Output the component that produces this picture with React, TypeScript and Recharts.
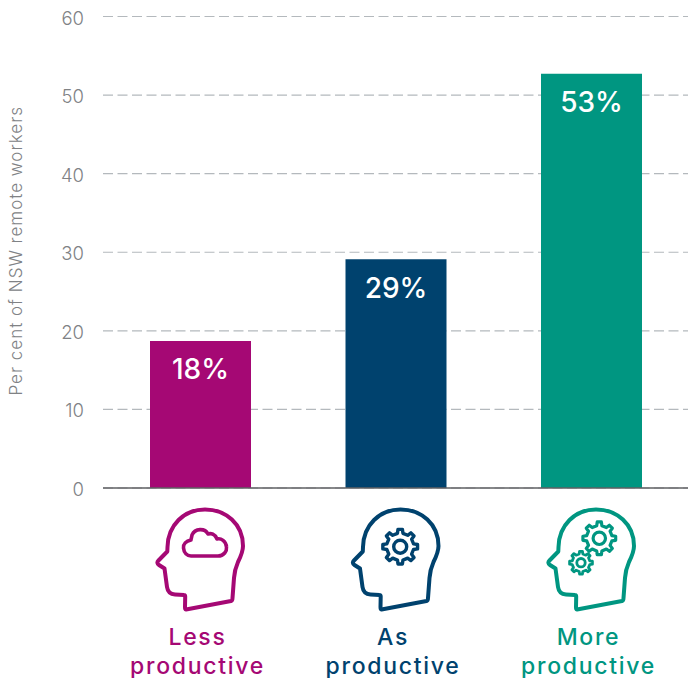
import React from "react";
import { BarChart, Bar, XAxis, YAxis, CartesianGrid, Cell, LabelList, ReferenceLine } from "recharts";

const categories = ["Less productive", "As productive", "More productive"];
const values = [18.7, 29.1, 52.7];
const valueLabels = ["18%", "29%", "53%"];
const firstLines = ["Less", "As", "More"];
const colors = ["#A50874", "#00426E", "#009681"];
const yTicks = [0, 10, 20, 30, 40, 50, 60];
const FONT = "Inter, sans-serif";

const data = categories.map((c, i) => ({ category: c, value: values[i], label: valueLabels[i] }));

const HEAD =
  "M-14 119.5 L31 111 Q32.5 110.5 32.5 108 L34 88 Q34.5 80 38 72 Q43 62 43 56 C43 34 26 19.5 5 19.5 C-16 19.5 -32 35 -32.5 57 L-32.7 61.5 L-41.5 70.5 Q-44 73 -41 75 L-35.5 78.5 L-33 97 Q-32 104 -25 104.5 L-16 105 Q-14.8 105 -14.8 106.5 L-15 117 Q-15 119.7 -14 119.5 Z";
const CLOUD =
  "M-9 66 L18 66 C24 66 27 61 26.5 57 C26 51 21 48 17 49 C15 44 11 43 8 44 C5 38 -5 38 -8 45 C-8.5 48 -9 49 -9 50 C-14 51 -17 54 -16.5 58 C-16 63 -13 66 -9 66 Z";

function gearPath(cx: number, cy: number, rOuter: number, rInner: number, teeth: number) {
  const pts: string[] = [];
  const step = (Math.PI * 2) / teeth;
  for (let t = 0; t < teeth; t++) {
    const a = t * step;
    const w = step * 0.2;
    const seq: [number, number][] = [
      [rInner, a - w * 1.3],
      [rOuter, a - w * 0.8],
      [rOuter, a + w * 0.8],
      [rInner, a + w * 1.3],
    ];
    seq.forEach(([r, ang]) => pts.push(`${(cx + r * Math.cos(ang)).toFixed(2)} ${(cy + r * Math.sin(ang)).toFixed(2)}`));
  }
  return "M" + pts.join(" L") + " Z";
}

function Gear({ cx, cy, r, hole, sw }: { cx: number; cy: number; r: number; hole: number; sw: number }) {
  return (
    <g>
      <path d={gearPath(cx, cy, r, r * 0.78, 8)} fill="#fff" strokeWidth={sw} strokeLinejoin="round" />
      <circle cx={cx} cy={cy} r={hole} fill="#fff" strokeWidth={sw} />
    </g>
  );
}

function IconTick(props: any) {
  const { x, y, payload } = props;
  const i = payload.index;
  const color = colors[i];
  return (
    <g transform={`translate(${x - 0.75},${y + 2})`}>
      <g stroke={color} fill="none" strokeWidth={4} strokeLinejoin="round" strokeLinecap="round">
        <path d={HEAD} />
        {i === 0 && <path d={CLOUD} strokeWidth={3.6} />}
        {i === 1 && <Gear cx={4.7} cy={56.7} r={17.5} hole={6.5} sw={3.4} />}
        {i === 2 && (
          <>
            <Gear cx={8.3} cy={48.3} r={16.5} hole={6.2} sw={3.2} />
            <Gear cx={-10} cy={72.7} r={11.5} hole={4.2} sw={2.8} />
          </>
        )}
      </g>
      <text textAnchor="middle" fontFamily={FONT} fontSize={23} fontWeight={500} letterSpacing={1.7} fill={color}>
        <tspan x={-2.5} y={154.5}>{firstLines[i]}</tspan>
        <tspan x={-2.5} y={183.5}>productive</tspan>
      </text>
    </g>
  );
}

export default function App() {
  return (
    <div style={{ position: "absolute", left: 0, top: 0, width: 688, height: 678 }}>
      <BarChart width={688} height={678} data={data} margin={{ top: 16.5, right: -1.5, bottom: 0, left: 0 }}>
        <CartesianGrid vertical={false} stroke="#B4B9BD" strokeWidth={1.2} strokeDasharray="10 4.5" />
        <XAxis
          dataKey="category"
          interval={0}
          height={190}
          tickLine={false}
          axisLine={false}
          tickSize={0}
          tickMargin={0}
          tick={<IconTick />}
        />
        <YAxis
          width={103}
          domain={[0, 60]}
          ticks={yTicks}
          tickLine={false}
          axisLine={false}
          tickMargin={13}
          tick={{ fontFamily: FONT, fontSize: 18.5, fill: "#808285", fontWeight: 300, dy: 1.5 }}
          label={{
            value: "Per cent of NSW remote workers",
            angle: -90,
            position: "insideLeft",
            offset: 16,
            dy: -1.5,
            style: { fontFamily: FONT, fontSize: 17, fill: "#808285", fontWeight: 300, textAnchor: "middle", letterSpacing: 1 },
          }}
        />
        <Bar dataKey="value" barSize={101} isAnimationActive={false}>
          {data.map((d, i) => (
            <Cell key={d.category} fill={colors[i]} />
          ))}
          <LabelList
            dataKey="label"
            position="insideTop"
            offset={18.5}
            style={{ fontFamily: FONT, fontSize: 28, fontWeight: 500, fill: "#fff" }}
          />
        </Bar>
        <ReferenceLine y={0} stroke="#5F6163" strokeWidth={1.6} />
      </BarChart>
    </div>
  );
}
